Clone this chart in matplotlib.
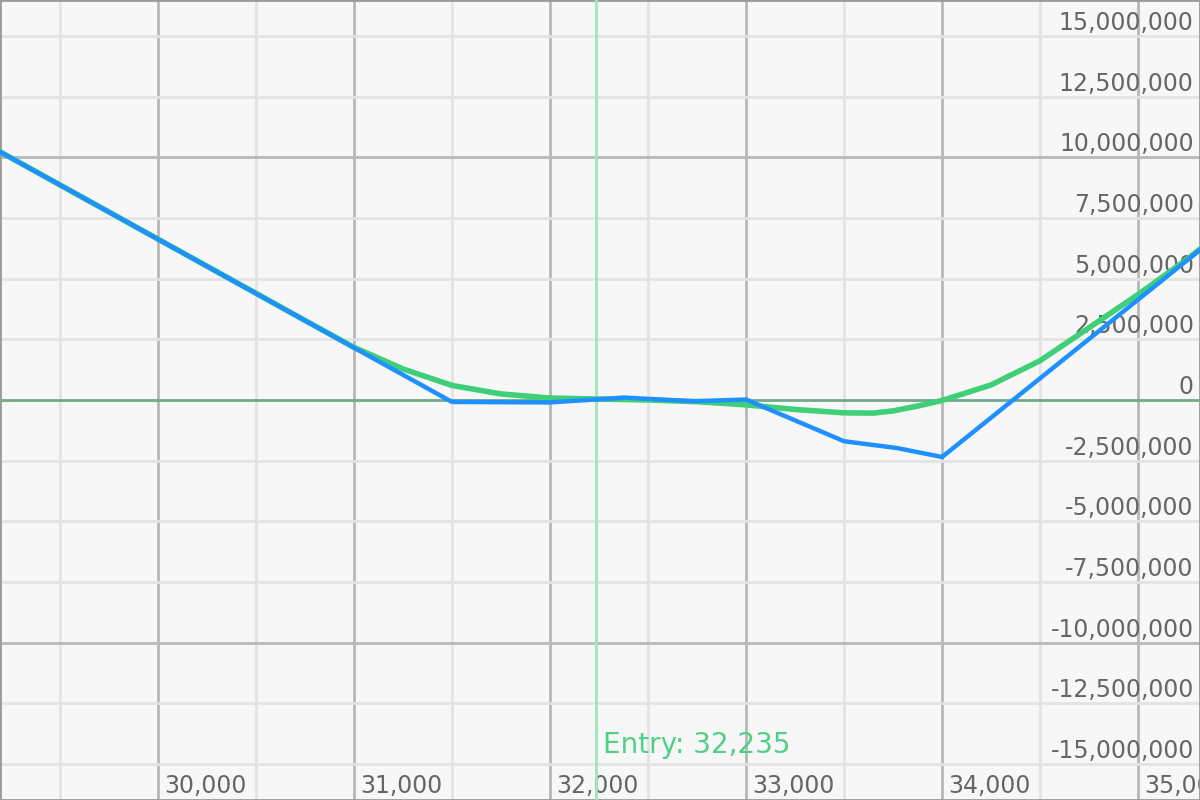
import matplotlib
matplotlib.use("Agg")
import matplotlib.pyplot as plt
import matplotlib.transforms as mtransforms
import numpy as np

# payoff at expiry (blue) and current theoretical value (green)
expiry_x = [29000, 31500, 32000, 32380, 32730, 33000, 33500, 33770, 34000, 35500]
expiry_pnl = [11.1e6, -0.08e6, -0.1e6, 0.1e6, -0.05e6, 0.02e6, -1.7e6, -1.98e6, -2.35e6, 7.38e6]

today_x = [29000, 30500, 30750, 31000, 31250, 31500, 31750, 32000, 32250, 32500, 32750,
           33000, 33250, 33500, 33650, 33750, 33875, 34000, 34250, 34500, 34750, 35000, 35250, 35500]
today_pnl = [11.1e6, 4.4e6, 3.28e6, 2.17e6, 1.28e6, 0.6e6, 0.25e6, 0.08e6, 0.04e6, 0.0, -0.07e6,
             -0.2e6, -0.39e6, -0.53e6, -0.54e6, -0.45e6, -0.25e6, -0.02e6, 0.62e6, 1.62e6,
             2.98e6, 4.35e6, 5.8e6, 7.4e6]

entry_price = 32235
x_ticks = [30000, 31000, 32000, 33000, 34000, 35000]
y_ticks = np.arange(-15e6, 15e6 + 1, 2.5e6)

BG = "#f7f7f7"
TXT = "#666666"

fig = plt.figure(figsize=(12, 8), dpi=100)
ax = fig.add_axes([0, 0, 1, 1])
ax.set_facecolor(BG)
ax.set_xlim(29194, 35316)
ax.set_ylim(-16.49e6, 16.49e6)

# grid
ax.set_xticks(x_ticks)
ax.set_xticks([29500, 30500, 31500, 32500, 33500, 34500], minor=True)
ax.set_yticks([-10e6, 10e6])
ax.set_yticks([v for v in y_ticks if v % 10e6 != 0], minor=True)
ax.grid(which="minor", color="#e3e3e3", linewidth=2, zorder=0)
ax.grid(which="major", color="#b8b8b8", linewidth=2, zorder=0)
ax.tick_params(which="both", length=0, labelbottom=False, labelleft=False)
ax.set_axisbelow(True)
ax.axhline(0, color="#72a88b", linewidth=2, zorder=1)

for s in ax.spines.values():
    s.set_color("#9a9a9a")
    s.set_linewidth(2)

# y labels on the right, above each gridline
ytrans = mtransforms.blended_transform_factory(ax.transAxes, ax.transData)
ytrans = mtransforms.offset_copy(ytrans, fig=fig, x=-5, y=6, units="dots")
for v in y_ticks:
    ax.text(0.999, v, f"{v:,.0f}", transform=ytrans, ha="right", va="baseline",
            fontsize=17, color=TXT, zorder=2)

# x labels along the bottom, right of each gridline
xtrans = mtransforms.blended_transform_factory(ax.transData, ax.transAxes)
xtrans = mtransforms.offset_copy(xtrans, fig=fig, x=6, y=7, units="dots")
for v in x_ticks:
    ax.text(v, 0, f"{v:,}", transform=xtrans, ha="left", va="baseline",
            fontsize=17, color=TXT, zorder=2, clip_on=True)

# entry marker
ax.axvline(entry_price, color="#a3e4bb", linewidth=2, zorder=3)
etrans = mtransforms.blended_transform_factory(ax.transData, ax.transAxes)
etrans = mtransforms.offset_copy(etrans, fig=fig, x=7, y=0, units="dots")
ax.text(entry_price, 1 - 753 / 800, f"Entry: {entry_price:,}", transform=etrans,
        ha="left", va="baseline", fontsize=20, color="#4fd085", zorder=3)

ax.plot(today_x, today_pnl, color="#3ecf78", linewidth=4, zorder=4, solid_capstyle="round")
ax.plot(expiry_x, expiry_pnl, color="#1e90ff", linewidth=3.2, zorder=5, solid_joinstyle="round")

fig.savefig("out.png", dpi=100, facecolor=BG)
